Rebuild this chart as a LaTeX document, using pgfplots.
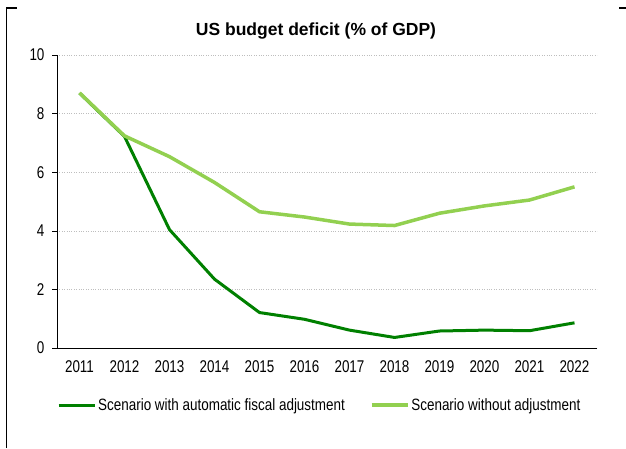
\documentclass[border=0pt]{standalone}
\usepackage{fontspec}
\setmainfont{Liberation Sans}
\newfontfamily\narrowfont[FakeStretch=0.79]{Liberation Sans}
\newfontfamily\legendfont[FakeStretch=0.82]{Liberation Sans}
\usepackage{pgfplots}
\pgfplotsset{compat=1.18}
\definecolor{darkg}{RGB}{0,128,0}
\definecolor{lightg}{RGB}{146,208,80}
\definecolor{gridg}{RGB}{190,190,190}
\begin{document}
\begin{tikzpicture}
\useasboundingbox (0pt,0pt) rectangle (626pt,448pt);
\draw[line width=1.5pt] (6.5pt,0pt) -- (6.5pt,440pt) -- (17pt,440pt);
\draw[line width=1.5pt] (619pt,440pt) -- (626pt,440pt);
\node[anchor=base, font=\bfseries\fontsize{17.5}{20}\selectfont, inner sep=0pt] at (316pt,412pt) {US budget deficit (\% of GDP)};
\begin{axis}[
  at={(57pt,100pt)}, anchor=south west,
  scale only axis, width=540pt, height=293pt,
  xmin=2010.5, xmax=2022.5, ymin=0, ymax=10,
  axis x line=bottom, axis y line=left,
  axis line style={-, black, line width=0.8pt},
  xtick={2011,...,2022},
  xticklabels={2011,2012,2013,2014,2015,2016,2017,2018,2019,2020,2021,2022},
  x tick style={draw=none},
  extra x ticks={2010.5,2011.5,2012.5,2013.5,2014.5,2015.5,2016.5,2017.5,2018.5,2019.5,2020.5,2021.5,2022.5},
  extra x tick labels={},
  extra x tick style={grid=none, tick style={draw=black, line width=0.6pt}, major tick length=5pt},
  ytick={0,2,...,10},
  y tick style={black, line width=0.6pt},
  tick align=outside, major tick length=5pt,
  ymajorgrids, grid style={gridg, dotted, line width=0.6pt},
  /pgf/number format/assume math mode=true,
  ticklabel style={font=\narrowfont\fontsize{17}{19}\selectfont},
  yticklabel style={xshift=-4pt},
  xticklabel style={yshift=-4pt},
  legend columns=2,
  legend style={at={(0,0)}, anchor=west, xshift=0pt, yshift=-57pt, draw=none, fill=none,
    inner sep=0pt, font=\legendfont\fontsize{16.4}{18}\selectfont,
    /tikz/every even column/.append style={column sep=23pt}},
  legend image code/.code={\draw[#1] (0pt,0pt) -- (36pt,0pt);},
  legend cell align=left,
]
\addplot[darkg, line width=3pt, line join=round] coordinates {
(2011,8.7) (2012,7.22) (2013,4.04) (2014,2.35) (2015,1.21) (2016,0.98) (2017,0.61) (2018,0.36) (2019,0.58) (2020,0.61) (2021,0.59) (2022,0.86)};
\addlegendentry{Scenario with automatic fiscal adjustment}
\addplot[lightg, line width=3.5pt, line join=round] coordinates {
(2011,8.71) (2012,7.24) (2013,6.53) (2014,5.65) (2015,4.65) (2016,4.47) (2017,4.23) (2018,4.18) (2019,4.6) (2020,4.85) (2021,5.05) (2022,5.5)};
\addlegendentry{Scenario without adjustment}
\end{axis}
\end{tikzpicture}
\end{document}
